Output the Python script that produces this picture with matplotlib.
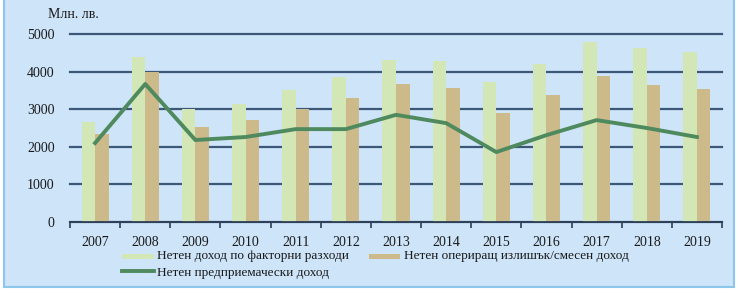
import matplotlib
matplotlib.use("Agg")
import matplotlib.pyplot as plt
from matplotlib.patches import Rectangle
import numpy as np

years = ["2007", "2008", "2009", "2010", "2011", "2012", "2013",
         "2014", "2015", "2016", "2017", "2018", "2019"]
factor_income = [2660, 4390, 3000, 3140, 3510, 3860, 4310, 4280, 3720, 4200, 4790, 4630, 4520]
operating_surplus = [2340, 3990, 2530, 2710, 3000, 3300, 3670, 3560, 2900, 3380, 3880, 3640, 3540]
entrepreneurial_income = [2100, 3670, 2180, 2260, 2470, 2470, 2850, 2630, 1860, 2310, 2710, 2500, 2260]

label_factor = "Нетен доход по факторни разходи"
label_surplus = "Нетен опериращ излишък/смесен доход"
label_entr = "Нетен предприемачески доход"

bg = "#cde4f9"
plt.rcParams['font.family'] = ['Liberation Serif', 'DejaVu Serif']

fig = plt.figure(figsize=(7.4, 2.97), dpi=100)
fig.patch.set_facecolor("white")
frame = Rectangle((4/740, 1 - 287/297), 730/740, 300/297, transform=fig.transFigure,
                  facecolor=bg, edgecolor="#8cc6ea", linewidth=1.5, zorder=-10)
fig.patches.append(frame)

ax = fig.add_axes([70/740, 1 - 222/297, 652/740, 188/297])
ax.set_facecolor("none")
x = np.arange(len(years))
w = 0.27
b1 = ax.bar(x - w/2, factor_income, width=w, color="#d3e7b6", zorder=3, label=label_factor)
b2 = ax.bar(x + w/2, operating_surplus, width=w, color="#cdba8a", zorder=3, label=label_surplus)
l1, = ax.plot(x, entrepreneurial_income, color="#4f8a5f", linewidth=2.8, zorder=4, label=label_entr)

ax.set_xlim(-0.5, len(years) - 0.5)
ax.set_ylim(0, 5000)
ax.set_yticks([0, 1000, 2000, 3000, 4000, 5000])
ax.yaxis.grid(True, color="#3c5878", linewidth=1.6, zorder=1)
ax.set_axisbelow(True)
for s in ["left", "right", "top"]:
    ax.spines[s].set_visible(False)
ax.spines["bottom"].set_color("#2e3f55")
ax.spines["bottom"].set_linewidth(1.3)
ax.spines["bottom"].set_zorder(5)
ax.tick_params(axis="y", length=0, pad=11, labelsize=10, labelcolor="#1a1a1a")
ax.set_xticks(x)
ax.set_xticklabels(years)
ax.set_xticks(np.arange(-0.5, len(years)), minor=True)
ax.tick_params(axis="x", which="major", length=0, pad=10, labelsize=10, labelcolor="#1a1a1a")
ax.tick_params(axis="x", which="minor", length=4, width=1.2, color="#2e3f55", direction="out")
for gl in ax.yaxis.get_gridlines():
    gl.set_clip_on(False)

fig.text(48/740, 1 - 14/297, "Млн. лв.", fontsize=10, va="center", ha="left", color="#1a1a1a")

leg = fig.legend(handles=[b1, l1, b2], labels=[label_factor, label_entr, label_surplus],
                 ncol=2, loc="upper left", bbox_to_anchor=(122/740, 1 - 250/297),
                 frameon=False, fontsize=9.5, handlelength=2.4, handletextpad=0.25,
                 columnspacing=1.5, labelspacing=0.35, borderaxespad=0, borderpad=0)
for h in leg.legend_handles[:1] + leg.legend_handles[2:]:
    h.set_height(4)
for t in leg.get_texts():
    t.set_color("#1a1a1a")

fig.savefig("out.png", dpi=100, facecolor="white")
